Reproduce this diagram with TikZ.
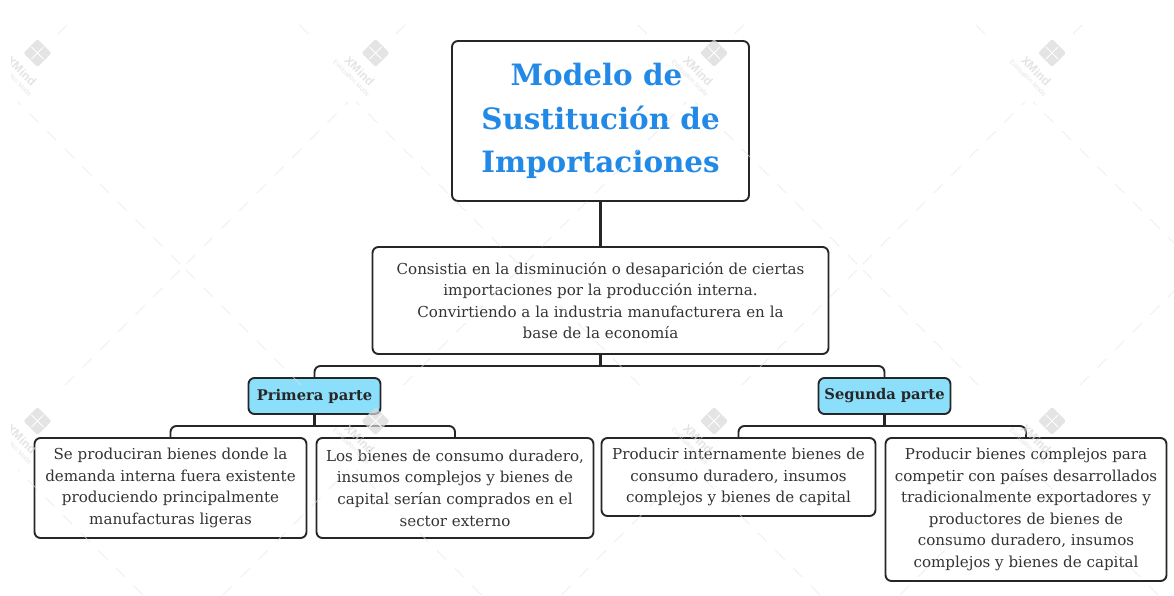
\documentclass[tikz,border=0pt]{standalone}
\usepackage{fontspec}
\setmainfont{DejaVu Serif}
\newfontfamily\wmfont{Liberation Sans}
\definecolor{ink}{HTML}{262626}
\definecolor{txt}{HTML}{333333}
\definecolor{titleblue}{HTML}{2389E6}
\definecolor{subfill}{HTML}{8CDFFB}
\definecolor{wm}{HTML}{E4E4E4}
\definecolor{wmlogo}{HTML}{D8D8D8}
\tikzset{
  boxbase/.style={draw=ink,line width=1.9pt,rounded corners=6pt,fill=white,inner sep=0pt,outer sep=0pt,align=center,anchor=north west},
  titlebox/.style={boxbase,text=titleblue,font=\fontsize{29.4}{43.3}\selectfont\bfseries},
  textbox/.style={boxbase,text=txt,font=\fontsize{15.1}{21.6}\selectfont},
  subbox/.style={boxbase,fill=subfill,text=ink,font=\fontsize{14.7}{20}\selectfont\bfseries},
  link/.style={draw=ink,line width=2.2pt},
  bus/.style={draw=ink,line width=1.9pt,rounded corners=6pt},
  wmline/.style={draw=wm,opacity=0.6,line width=0.9pt,dash pattern=on 13pt off 12pt},
  wmtitle/.style={text=wmlogo,text opacity=0.7,rotate=-45,inner sep=0pt,font=\wmfont\bfseries\fontsize{12}{12}\selectfont},
  wmsub/.style={text=wmlogo,text opacity=0.7,rotate=-45,inner sep=0pt,font=\wmfont\fontsize{6.5}{7}\selectfont}
}
\begin{document}
\begin{tikzpicture}[x=1pt,y=-1pt]
\useasboundingbox (0,0) rectangle (1174,595);
% connector helper coordinates
\coordinate (midbus) at (600.5,366);
\coordinate (lbus) at (314.5,426);
\coordinate (rbus) at (884.5,426);
% nodes
\node[titlebox,minimum width=297pt,minimum height=160pt] (top) at (452,41)
  {Modelo de\hspace*{8pt}\\Sustitución de\hspace*{8pt}\\Importaciones};
\node[textbox,minimum width=456pt,minimum height=107pt] (mid) at (372.5,247)
  {Consistia en la disminución o desaparición de ciertas\\importaciones por la producción interna.\\Convirtiendo a la industria manufacturera en la\\base de la economía};
\node[subbox,minimum width=132pt,minimum height=36pt] (pri) at (248.5,378) {Primera parte};
\node[subbox,minimum width=132pt,minimum height=36pt] (seg) at (818.5,378) {Segunda parte};
\node[textbox,minimum width=272pt,minimum height=100pt] (a) at (34.5,438)
  {Se produciran bienes donde la\\demanda interna fuera existente\\produciendo principalmente\\manufacturas ligeras};
\node[textbox,minimum width=277pt,minimum height=100pt] (b) at (316.5,438)
  {Los bienes de consumo duradero,\\insumos complejos y bienes de\\capital serían comprados en el\\sector externo};
\node[textbox,minimum width=274pt,minimum height=78pt] (c) at (601.5,438)
  {Producir internamente bienes de\\consumo duradero, insumos\\complejos y bienes de capital};
\node[textbox,minimum width=281pt,minimum height=143pt] (d) at (885.5,438)
  {Producir bienes complejos para\\competir con países desarrollados\\tradicionalmente exportadores y\\productores de bienes de\\consumo duradero, insumos\\complejos y bienes de capital};
% connectors
\draw[link] (top.south) -- (mid.north);
\draw[link] (mid.south) -- (midbus);
\draw[bus] (pri.north) |- (midbus) -| (seg.north);
\draw[link] (pri.south) -- (lbus);
\draw[bus] (a.north) |- (lbus) -| (b.north);
\draw[link] (seg.south) -- (rbus);
\draw[bus] (c.north) |- (rbus) -| (d.north);
% watermark, lying over the diagram
\begin{scope}
\clip (11,0) rectangle (1174,595);
\foreach \c in {-155,183,521.5,860,1198}{
  \draw[wmline] ({\c-3},264) -- ({\c-165},102);
  \draw[wmline] ({\c+3},264) -- ({\c+165},102);
  \draw[wmline] ({\c-213},34) -- ({\c-228},19);
  \draw[wmline] ({\c+213},34) -- ({\c+228},19);
  \draw[wmline] ({\c-3},270) -- ({\c-118},385);
  \draw[wmline] ({\c+3},270) -- ({\c+118},385);
  \draw[wmline] ({\c-40},595) -- ({\c-165},470);
  \draw[wmline] ({\c+40},595) -- ({\c+165},470);
}
\foreach \x [count=\i] in {37.5,375.5,714,1052}{
  \foreach \y [count=\j] in {53,421}{
    \fill[wmlogo,opacity=0.7,rounded corners=2pt] (\x-14,\y) -- (\x,\y-14) -- (\x+14,\y) -- (\x,\y+14) -- cycle;
    \draw[white,line width=1pt] (\x-6,\y-6) .. controls (\x-1,\y-1) and (\x-1,\y-1) .. (\x+6,\y+6);
    \draw[white,line width=1pt] (\x+6,\y-6) .. controls (\x+1,\y-1) and (\x+1,\y-1) .. (\x-6,\y+6);
    \node[wmtitle] (wt\i\j) at (\x-16,\y+18) {XMind};
    \node[wmsub] (ws\i\j) at (\x-24,\y+25) {Evaluation Mode};
  }
}
\end{scope}
\end{tikzpicture}
\end{document}
